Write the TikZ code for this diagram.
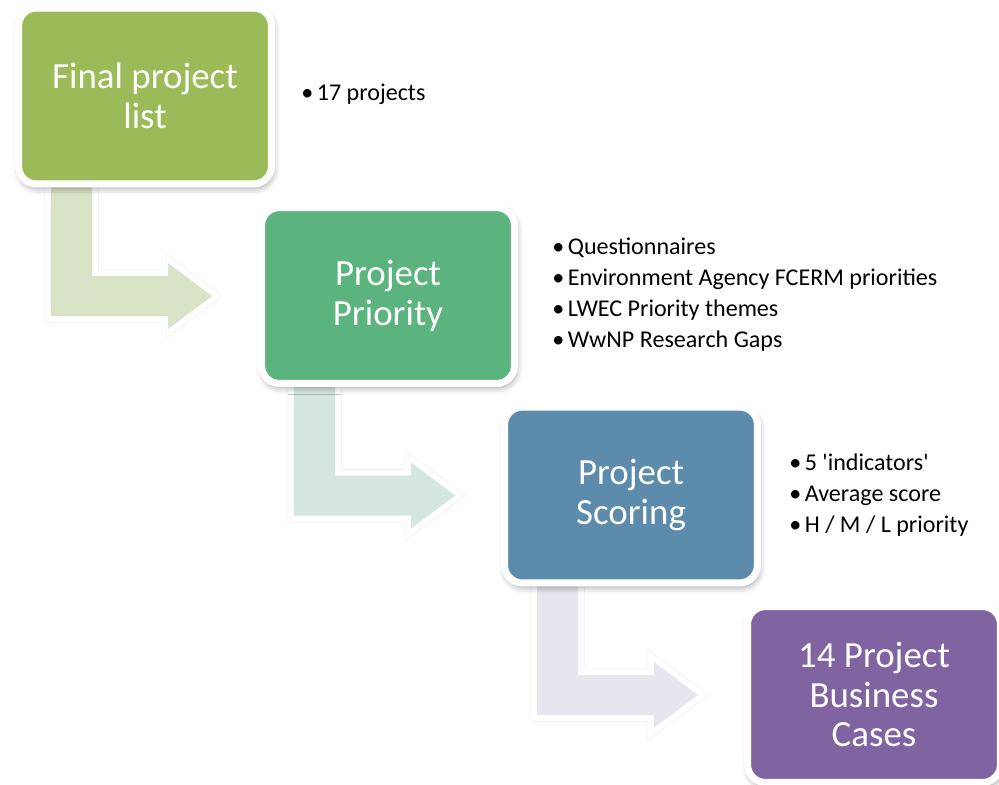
\documentclass[tikz,border=0pt]{standalone}
\usepackage{fontspec}
\setmainfont{Carlito}
\usetikzlibrary{calc, shadows.blur}

\definecolor{stageA}{RGB}{155,187,89}
\definecolor{stageB}{RGB}{91,179,125}
\definecolor{stageC}{RGB}{93,139,171}
\definecolor{stageD}{RGB}{128,100,162}
\definecolor{bendA}{RGB}{216,226,197}
\definecolor{bendB}{RGB}{213,229,226}
\definecolor{bendC}{RGB}{231,229,237}

\tikzset{
  stage/.style={rectangle, rounded corners=0.36cm, draw=white, line width=0.14cm,
    minimum width=5.06cm, minimum height=3.52cm, text=white, align=center,
    font=\fontsize{21}{22.7}\selectfont,
    blur shadow={shadow xshift=0.03cm, shadow yshift=-0.08cm, shadow blur radius=0.14cm, shadow opacity=40}},
  notes/.style={anchor=west, align=left, inner sep=0pt, font=\fontsize{13.7}{17.6}\selectfont},
  bentshade/.style={draw=black, draw opacity=0.09, line width=0.26cm, line join=miter, xshift=0.04cm, yshift=-0.07cm},
  bentedge/.style={draw=white, fill=white, line width=0.24cm, line join=miter},
  bentfill/.style={fill=\c}
}
\newcommand{\bul}{\makebox[0.31cm][l]{•}}

\begin{document}
\begin{tikzpicture}[x=0.02cm, y=-0.02cm]
    \useasboundingbox (0,0) rectangle (999,784);

    % bent arrows behind the boxes
    \coordinate (s1) at (15,187.5);
    \coordinate (s2) at (258,387);
    \coordinate (s3) at (501,586.5);
    \coordinate (w2) at (258,296);
    \coordinate (w3) at (501,495.5);
    \coordinate (w4) at (744,695);
    \foreach \a/\b/\c in {s1/w2/bendA, s2/w3/bendB, s3/w4/bendC}{
      \foreach \look in {bentshade, bentedge, bentfill}{
        \path[\look] ($(\a)+(36,-10)$) -- ++(41,0) |- ($(\b)+(-90,-20)$) -- ++(0,-13)
          -- ($(\b)+(-46,0)$) -- ($(\b)+(-90,33)$) -- ++(0,-13) -| ($(\a)+(36,-10)$) -- cycle;
      }
    }

    \node[stage, fill=stageA] (list) at (145,96) {Final project\\list};
    \node[stage, fill=stageB] (priority) at (388,295.5) {Project\\Priority};
    \node[stage, fill=stageC] (scoring) at (631,495) {Project\\Scoring};
    \node[stage, fill=stageD] (cases) at (874,694.5) {14 Project\\Business\\Cases};

    \node[notes] (listnotes) at ($(list.east)+(26,-2)$) {\bul 17 projects};
    \node[notes] (prionotes) at ($(priority.east)+(34,-1)$) {\bul Questionnaires\\
      \bul Environment Agency FCERM priorities\\
      \bul LWEC Priority themes\\
      \bul WwNP Research Gaps};
    \node[notes] (scorenotes) at ($(scoring.east)+(28,0)$) {\bul 5 \textquotesingle indicators\textquotesingle\\
      \bul Average score\\
      \bul H / M / L priority};
\end{tikzpicture}
\end{document}
